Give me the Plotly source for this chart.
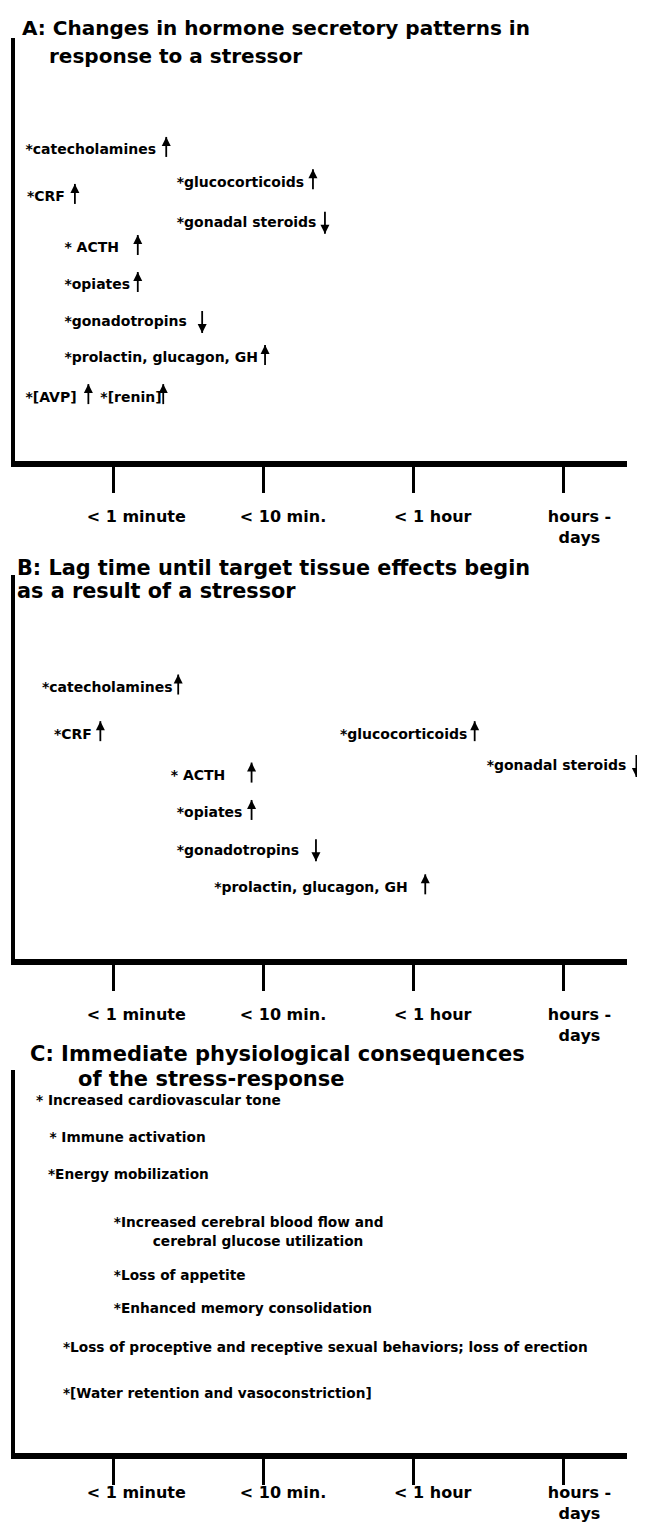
import plotly.graph_objects as go

W, H = 645, 1525

# ---------------- data ----------------
tick_vals = [1, 2, 3, 4]
tick_label_pos = [1.15, 2.13, 3.13, 4.11]
tick_text = ["< 1 minute", "< 10 min.", "< 1 hour", "hours -<br>days"]

# Panel A: changes in hormone secretory patterns
a_labels = ["*catecholamines", "*CRF", "*glucocorticoids", "*gonadal steroids", "* ACTH",
            "*opiates", "*gonadotropins", "*prolactin, glucagon, GH", "*[AVP]", "*[renin]"]
a_text_x = [0.41, 0.42, 1.42, 1.42, 0.67, 0.67, 0.67, 0.67, 0.41, 0.91]
a_arrow_x = [1.35, 0.74, 2.33, 2.41, 1.16, 1.16, 1.59, 2.01, 0.83, 1.33]
a_y = [8.38, 7.11, 7.51, 6.41, 5.73, 4.73, 3.73, 2.76, 1.70, 1.70]
a_dir = ["up", "up", "up", "down", "up", "up", "down", "up", "up", "up"]

# Panel B: lag time until target tissue effects begin
b_labels = ["*catecholamines", "*CRF", "*glucocorticoids", "*gonadal steroids", "* ACTH",
            "*opiates", "*gonadotropins", "*prolactin, glucagon, GH"]
b_text_x = [0.52, 0.60, 2.51, 3.49, 1.38, 1.42, 1.42, 1.67]
b_arrow_x = [1.43, 0.91, 3.41, 4.49, 1.92, 1.92, 2.35, 3.08]
b_y = [7.31, 6.05, 6.05, 5.19, 4.93, 3.92, 2.91, 1.91]
b_dir = ["up", "up", "up", "down", "up", "up", "down", "up"]

# Panel C: immediate physiological consequences
c_labels = ["* Increased cardiovascular tone", "* Immune activation", "*Energy mobilization",
            "*Increased cerebral blood flow and", "cerebral glucose utilization",
            "*Loss of appetite", "*Enhanced memory consolidation",
            "*Loss of proceptive and receptive sexual behaviors; loss of erection",
            "*[Water retention and vasoconstriction]"]
c_text_x = [0.48, 0.57, 0.56, 1.00, 1.26, 1.00, 1.00, 0.66, 0.66]
c_y = [9.49, 8.51, 7.51, 6.19, 5.70, 4.78, 3.87, 2.81, 1.57]

titles = [
    ["A: Changes in hormone secretory patterns in", "response to a stressor"],
    ["B: Lag time until target tissue effects begin", "as a result of a stressor"],
    ["C: Immediate physiological consequences", "of the stress-response"],
]

# ---------------- layout geometry (pixels) ----------------
PX_PER_ROW = 37.0
PX_PER_X = 149.73
X0 = 0.34
AX_LEFT, AX_RIGHT = 7, 619
panels = [dict(top=30, bottom=453, lab=41), dict(top=567, bottom=951, lab=41),
          dict(top=1062, bottom=1445, lab=25)]
title_pos = [[(12, 20), (39, 48)], [(7, 560), (7, 583)], [(20, 1046), (68, 1071)]]
title_size = [20.0, 20.8, 21]
x_dom = [AX_LEFT / W, AX_RIGHT / W]
x_range = [X0, X0 + (AX_RIGHT - AX_LEFT) / PX_PER_X]
item_dom = [AX_LEFT / W, 1.0]
item_range = [X0, X0 + (W - AX_LEFT) / PX_PER_X]

FONT = "DejaVu Sans"
fig = go.Figure()


def ax_names(idx):
    n = idx + 1
    return f"x{n + 6}", ("y" if n == 1 else f"y{n}")


def add_items(idx, labels, tx, ys, size):
    ax, ay = ax_names(idx)
    fig.add_trace(go.Scatter(
        x=tx, y=ys, text=labels, mode="text", textposition="middle right",
        textfont=dict(family=FONT, size=size, color="black", weight="bold"),
        cliponaxis=False, hoverinfo="skip", showlegend=False, xaxis=ax, yaxis=ay))


def add_arrows(idx, axs, ys, dirs):
    ax, ay = ax_names(idx)
    lx, ly, hx, hy, hs = [], [], [], [], []
    for x, y, d in zip(axs, ys, dirs):
        if d == "up":
            tail, tip = y - 6 / PX_PER_ROW, y + 14 / PX_PER_ROW
        else:
            tail, tip = y + 12 / PX_PER_ROW, y - 10 / PX_PER_ROW
        lx += [x, x, None]
        ly += [tail, tip, None]
        hx.append(x)
        hy.append(tip)
        hs.append("arrow-up" if d == "up" else "arrow-down")
    fig.add_trace(go.Scatter(x=lx, y=ly, mode="lines", line=dict(color="black", width=1.8),
                             cliponaxis=False, hoverinfo="skip", showlegend=False,
                             xaxis=ax, yaxis=ay))
    fig.add_trace(go.Scatter(x=hx, y=hy, mode="markers",
                             marker=dict(symbol=hs, size=9, color="black",
                                         line=dict(width=0)),
                             cliponaxis=False, hoverinfo="skip", showlegend=False,
                             xaxis=ax, yaxis=ay))


layout = dict(width=W, height=H, margin=dict(l=0, r=0, t=0, b=0),
              paper_bgcolor="white", plot_bgcolor="white", showlegend=False)

annotations = []
for i, p in enumerate(panels):
    n = i + 1
    xk = "xaxis" if n == 1 else f"xaxis{n}"
    yk = "yaxis" if n == 1 else f"yaxis{n}"
    yname = "y" if n == 1 else f"y{n}"
    xname = "x" if n == 1 else f"x{n}"
    dom_y = [1 - p["bottom"] / H, 1 - p["top"] / H]
    y_range = [0, (p["bottom"] - p["top"]) / PX_PER_ROW]
    layout[xk] = dict(domain=x_dom, range=x_range, anchor=yname, showline=True,
                      linewidth=6, linecolor="black", ticks="outside", ticklen=26,
                      tickwidth=2.5, tickcolor="black", tickvals=tick_vals,
                      showticklabels=False, showgrid=False, zeroline=False, fixedrange=True)
    layout[f"xaxis{n + 3}"] = dict(overlaying=xname, anchor=yname, range=x_range,
                                   tickvals=tick_label_pos, ticktext=tick_text,
                                   ticks="outside", ticklen=p["lab"],
                                   tickcolor="rgba(0,0,0,0)",
                                   showline=False, showgrid=False, zeroline=False,
                                   tickfont=dict(family=FONT, size=16, color="black",
                                                 weight="bold"),
                                   side="bottom", fixedrange=True)
    layout[f"xaxis{n + 6}"] = dict(domain=item_dom, range=item_range, anchor=yname,
                                   visible=False, fixedrange=True)
    layout[yk] = dict(domain=dom_y, range=y_range,
                      anchor=xname, showline=True, linewidth=4, linecolor="black",
                      showticklabels=False, ticks="", showgrid=False, zeroline=False,
                      fixedrange=True)
    for (tx, ty), t in zip(title_pos[i], titles[i]):
        annotations.append(dict(text=t, x=tx / W, y=1 - ty / H, xref="paper", yref="paper",
                                xanchor="left", yanchor="middle", showarrow=False,
                                font=dict(family=FONT, size=title_size[i], color="black",
                                          weight="bold")))
    # empty traces so that the axis frame and the label axis are drawn
    fig.add_trace(go.Scatter(x=[None], y=[None], xaxis=xname, yaxis=yname,
                             showlegend=False, hoverinfo="skip"))
    fig.add_trace(go.Scatter(x=[None], y=[None], xaxis=f"x{n + 3}", yaxis=yname,
                             showlegend=False, hoverinfo="skip"))

add_items(0, a_labels, a_text_x, a_y, 14)
add_arrows(0, a_arrow_x, a_y, a_dir)
add_items(1, b_labels, b_text_x, b_y, 14)
add_arrows(1, b_arrow_x, b_y, b_dir)
add_items(2, c_labels, c_text_x, c_y, 13.7)

layout["annotations"] = annotations
fig.update_layout(**layout)
fig.write_html("out.html")
